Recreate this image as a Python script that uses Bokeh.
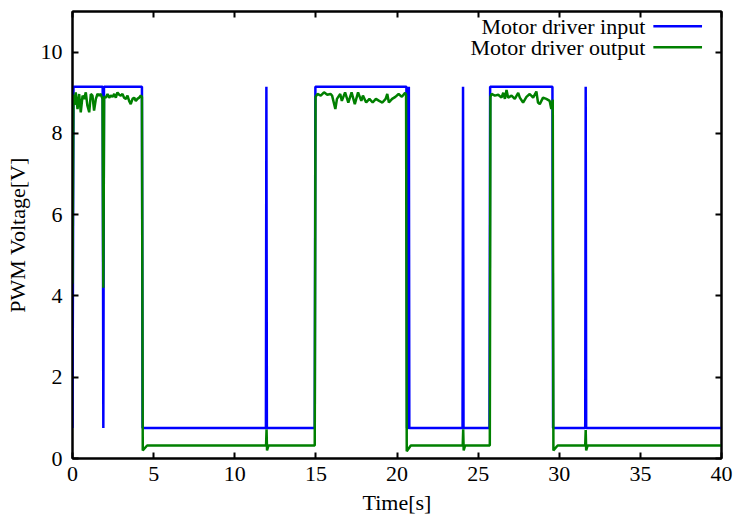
from bokeh.plotting import figure
from bokeh.models import Range1d, FixedTicker, LinearAxis, Label, ColumnDataSource
from bokeh.embed import file_html
from bokeh.resources import INLINE

# Motor driver input (PWM command) in volts over time
input_t = [0.0, 0.06, 1.86, 1.90, 1.94, 4.28, 4.32, 11.92, 11.95, 11.98,
           14.93, 14.97, 20.58, 20.62, 20.70, 20.73, 20.76, 24.04, 24.07, 24.10,
           25.70, 25.74, 29.58, 29.62, 31.60, 31.63, 31.66, 40.0]
input_v = [0.75, 9.15, 9.15, 0.75, 9.15, 9.15, 0.75, 0.75, 9.15, 0.75,
           0.75, 9.15, 9.15, 0.75, 0.75, 9.15, 0.75, 0.75, 9.15, 0.75,
           0.75, 9.15, 9.15, 0.75, 0.75, 9.15, 0.75, 0.75]

# Measured motor driver output in volts over time
output_t = [0.0, 0.06, 0.12, 0.20, 0.31, 0.41, 0.51, 0.62, 0.72, 0.82,
            0.92, 1.03, 1.13, 1.23, 1.33, 1.44, 1.54, 1.64, 1.74, 1.85,
            1.90, 1.95, 2.05, 2.16, 2.26, 2.36, 2.47, 2.57, 2.67, 2.77,
            2.88, 2.98, 3.08, 3.18, 3.29, 3.39, 3.49, 3.59, 3.70, 3.80,
            3.90, 4.00, 4.11, 4.21, 4.28, 4.33, 4.60, 11.93, 11.96, 11.99,
            12.08, 14.93, 14.98, 15.10, 15.30, 15.50, 15.70, 15.90, 16.00, 16.20,
            16.30, 16.50, 16.60, 16.80, 17.00, 17.20, 17.40, 17.60, 17.80, 17.90,
            18.10, 18.30, 18.50, 18.70, 18.90, 19.10, 19.30, 19.40, 19.50, 19.70,
            19.90, 20.10, 20.30, 20.50, 20.56, 20.60, 20.85, 24.05, 24.08, 24.11,
            24.20, 25.72, 25.76, 25.83, 26.03, 26.24, 26.44, 26.55, 26.65, 26.75,
            26.85, 27.06, 27.26, 27.47, 27.57, 27.77, 27.98, 28.18, 28.39, 28.59,
            28.69, 28.80, 29.00, 29.20, 29.41, 29.51, 29.60, 29.64, 29.90, 31.60,
            31.63, 31.66, 31.75, 40.0]
output_v = [4.30, 8.95, 8.70, 9.01, 8.60, 8.97, 8.52, 8.93, 8.85, 9.01,
            8.68, 8.52, 8.97, 8.93, 8.56, 8.85, 8.97, 8.93, 8.97, 8.85,
            4.20, 8.90, 8.88, 8.97, 8.88, 8.93, 8.90, 8.97, 8.88, 9.01,
            8.95, 8.93, 8.97, 8.88, 8.85, 8.93, 8.80, 8.72, 8.85, 8.88,
            8.80, 8.85, 8.88, 8.93, 8.90, 0.20, 0.32, 0.32, 0.72, 0.20,
            0.32, 0.32, 8.90, 8.97, 8.93, 9.01, 8.95, 8.97, 8.93, 8.60,
            8.85, 8.97, 8.80, 9.01, 8.76, 9.01, 8.72, 9.01, 8.80, 8.93,
            8.76, 8.85, 8.76, 8.85, 8.80, 8.76, 8.85, 8.97, 8.76, 8.85,
            8.90, 8.97, 8.90, 9.00, 8.95, 0.18, 0.32, 0.32, 0.72, 0.20,
            0.32, 0.32, 8.90, 8.97, 8.93, 8.95, 8.88, 9.00, 8.85, 9.07,
            8.88, 8.93, 8.85, 9.00, 8.88, 8.76, 8.90, 8.97, 8.88, 9.03,
            8.76, 8.72, 8.88, 8.85, 8.80, 8.60, 8.83, 0.20, 0.32, 0.32,
            0.70, 0.20, 0.32, 0.32]

x_ticks = [0, 5, 10, 15, 20, 25, 30, 35, 40]
y_ticks = [0, 2, 4, 6, 8, 10]
series_names = ["Motor driver input", "Motor driver output"]
series_colors = ["#0000ff", "#008000"]

FONT = "Liberation Serif"
FS = "22px"

p = figure(width=736, height=526, output_backend="svg", toolbar_location=None,
           x_range=Range1d(0, 40), y_range=Range1d(0, 11),
           min_border_left=72, min_border_right=15, min_border_top=11,
           min_border_bottom=68, background_fill_color="white",
           border_fill_color="white")

p.xgrid.grid_line_color = None
p.ygrid.grid_line_color = None
p.outline_line_color = "black"
p.outline_line_width = 2


def style_axis(ax, ticks, show_labels):
    ax.ticker = FixedTicker(ticks=ticks)
    ax.axis_line_color = "black"
    ax.axis_line_width = 2
    ax.major_tick_line_color = "black"
    ax.major_tick_line_width = 2
    ax.major_tick_in = 6
    ax.major_tick_out = 0
    ax.minor_tick_line_color = None
    if show_labels:
        ax.major_label_text_font = FONT
        ax.major_label_text_font_size = FS
        ax.major_label_text_color = "black"
        ax.axis_label_text_font = FONT
        ax.axis_label_text_font_size = FS
        ax.axis_label_text_font_style = "normal"
        ax.axis_label_text_color = "black"
    else:
        # mirrored tick marks only, no labels
        ax.major_label_text_color = None
        ax.major_label_text_font_size = "1px"
        ax.major_label_standoff = 0


xa = p.xaxis[0]
ya = p.yaxis[0]
style_axis(xa, x_ticks, True)
style_axis(ya, y_ticks, True)
xa.axis_label = "Time[s]"
ya.axis_label = "PWM Voltage[V]"
xa.major_label_standoff = 8
xa.axis_label_standoff = 6
ya.major_label_standoff = 10
ya.axis_label_standoff = 8

top_axis = LinearAxis()
right_axis = LinearAxis()
style_axis(top_axis, x_ticks, False)
style_axis(right_axis, y_ticks, False)
p.add_layout(top_axis, "above")
p.add_layout(right_axis, "right")

src_in = ColumnDataSource(dict(t=input_t, v=input_v))
src_out = ColumnDataSource(dict(t=output_t, v=output_v))
p.line("t", "v", source=src_in, line_color=series_colors[0], line_width=2.5)
p.line("t", "v", source=src_out, line_color=series_colors[1], line_width=2.5)

# gnuplot-style key: right-aligned text followed by a line sample
key_y = [10.64, 10.12]
for name, color, ky in zip(series_names, series_colors, key_y):
    p.add_layout(Label(x=35.3, y=ky, text=name, text_align="right",
                       text_baseline="middle", text_font=FONT,
                       text_font_size=FS, text_color="black"))
    p.segment(x0=[35.8], y0=[ky], x1=[38.8], y1=[ky],
              line_color=color, line_width=2.5)

open("out.html", "w").write(file_html(p, INLINE))
